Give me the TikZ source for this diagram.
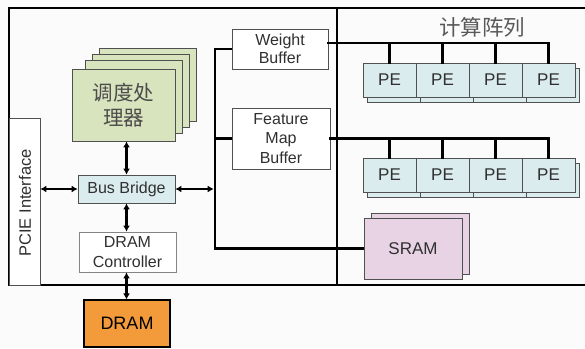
\documentclass[tikz,border=0pt]{standalone}
\usepackage{fontspec}
\setmainfont{Liberation Sans}
\newfontfamily\cjk{Noto Sans CJK SC}
\usetikzlibrary{arrows.meta,calc}

\definecolor{bgc}{HTML}{FBFBFB}
\definecolor{boxc}{HTML}{505050}
\definecolor{txt}{HTML}{303030}
\definecolor{olivefill}{HTML}{D8E4BD}
\definecolor{pefill}{HTML}{DBECEE}
\definecolor{pinkfill}{HTML}{E7D3E4}
\definecolor{orangefill}{HTML}{F39B3B}

\tikzset{
  blk/.style={draw=boxc, line width=0.8pt, align=center, inner sep=0pt,
    text=txt, font=\fontsize{16}{19.5}\selectfont},
  pebox/.style={blk, fill=pefill, minimum width=53pt, minimum height=34pt,
    font=\fontsize{17}{19}\selectfont},
  peshadow/.style={draw=boxc, line width=0.8pt, fill=pefill,
    minimum width=53pt, minimum height=34pt, inner sep=0pt},
  layer/.style={blk, fill=olivefill, minimum width=97pt, minimum height=73pt},
  bus/.style={line width=2.6pt, line cap=rect},
  dbl/.style={line width=2.2pt, {Latex[length=6pt,width=7pt]}-{Latex[length=6pt,width=7pt]}},
  frame/.style={line width=1.1pt, draw=black}
}

\begin{document}
\begin{tikzpicture}[x=1pt,y=-1pt]
\useasboundingbox[fill=bgc] (0,0) rectangle (585,348);

% outer board frame and divider
\draw[frame] (585,8) -- (9,8) -- (9,285) -- (585,285);
\draw[frame] (337,8) -- (337,285);

% PCIE interface strip
\node[blk, fill=white, minimum width=31pt, minimum height=167pt] (pcie) at (24.5,201.5) {};
\node[rotate=90, text=txt, font=\fontsize{16.5}{19}\selectfont] (pcietxt) at (25,203) {PCIE Interface};

% scheduler processors (stacked)
\node[layer] (sch3) at (147.5,84.5) {};
\node[layer] (sch2) at (141,91) {};
\node[layer] (sch1) at (133.5,97) {};
\node[blk, fill=olivefill, minimum width=103pt, minimum height=72pt,
      text=black!70, font=\cjk\fontsize{20.5}{25}\selectfont] (sch) at (123.5,105) {调度处\\理器};

% bus bridge, DRAM controller, DRAM
\node[blk, fill=pefill, minimum width=97pt, minimum height=28pt] (bb) at (126.5,189) {Bus Bridge};
\node[blk, draw=boxc!70, fill=white, minimum width=97pt, minimum height=40pt] (dc) at (127.5,252) {DRAM\\Controller};
\node[blk, draw=black, line width=1.1pt, fill=orangefill, minimum width=86pt, minimum height=47pt,
      text=black, font=\fontsize{18}{20}\selectfont] (dram) at (127,323.5) {DRAM};

% buffers
\node[blk, fill=white, minimum width=96pt, minimum height=40pt,
      font=\fontsize{16}{18.5}\selectfont] (wb) at (280,49) {Weight\\Buffer};
\node[blk, fill=white, minimum width=98pt, minimum height=61pt] (fmb) at (281,138.5) {Feature\\Map\\Buffer};

% SRAM (stacked)
\node[blk, fill=pinkfill, minimum width=98pt, minimum height=61pt] (sramb) at (420,243.5) {};
\node[blk, fill=pinkfill, minimum width=98pt, minimum height=61pt,
      font=\fontsize{17}{19}\selectfont] (sram) at (413,248.5) {SRAM};

% compute array title
\node[text=black!65, font=\cjk\fontsize{21.5}{24}\selectfont] (title) at (482,27) {计算阵列};

% PE rows with shadows
\foreach \i/\x in {1/389.5,2/442.5,3/495.5,4/548.5}{
  \node[peshadow] (sa\i) at (\x+4,85) {};
  \node[peshadow] (sb\i) at (\x+4,180) {};
}
\foreach \i/\x in {1/389.5,2/442.5,3/495.5,4/548.5}{
  \node[pebox] (pa\i) at (\x,80) {PE};
  \node[pebox] (pb\i) at (\x,175) {PE};
}

% weight bus to first PE row
\coordinate (wbout) at ($(wb.north east)!0.35!(wb.south east)$);
\coordinate (wbend) at (pa4.north |- wbout);
\draw[bus] (wbout) -- (wbend) -- (pa4.north);
\foreach \i in {1,2,3}{ \draw[bus] (pa\i.north |- wbout) -- (pa\i.north); }

% feature map bus to second PE row
\coordinate (fmend) at (pb4.north |- fmb.east);
\draw[bus] (fmb.east) -- (fmend) -- (pb4.north);
\foreach \i in {1,2,3}{ \draw[bus] (pb\i.north |- fmb.east) -- (pb\i.north); }

% internal bus joining buffers and SRAM
\coordinate (busx) at (215,0);
\draw[bus, line cap=butt] (wb.west) -- (wb.west -| busx) |- (sram.west);
\draw[bus, line cap=butt] (fmb.west) -- (fmb.west -| busx);

% bidirectional links
\draw[dbl] (bb.north |- sch.south) -- (bb.north);
\draw[dbl] (bb.south) -- (bb.south |- dc.north);
\draw[dbl] (bb.south |- dc.south) -- (bb.south |- dram.north);
\draw[dbl] (pcie.east |- bb.west) -- (bb.west);
\draw[dbl] (bb.east) -- ($(bb.east -| busx)+(-1.3,0)$);
\end{tikzpicture}
\end{document}
